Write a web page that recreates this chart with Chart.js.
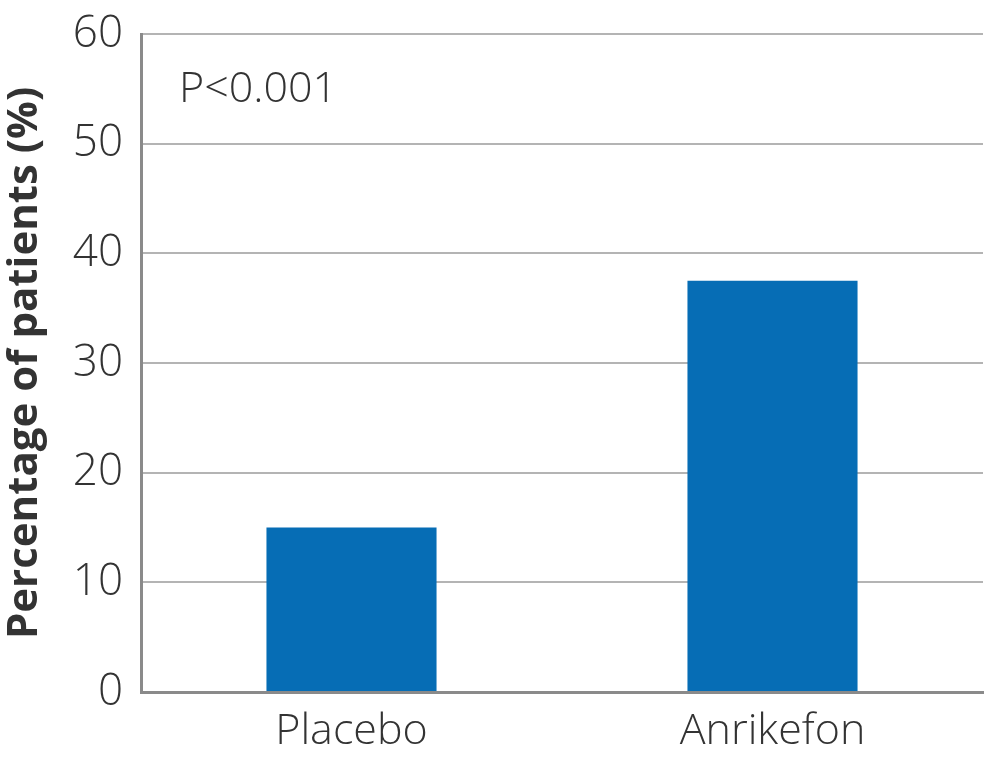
<!DOCTYPE html>
<html>
<head>
<meta charset="utf-8">
<script src="https://cdn.jsdelivr.net/npm/chart.js@4"></script>
<style>
  html, body { margin: 0; padding: 0; background: #fff; }
  #wrap { width: 985px; height: 757px; }
</style>
</head>
<body>
<div id="wrap"><canvas id="myChart" width="985" height="757"></canvas></div>
<script>
// data
const groups = ['Placebo', 'Anrikefon'];
const pct_patients = [15.0, 37.5];
const y_ticks = [0, 10, 20, 30, 40, 50, 60];
const p_label = 'P<0.001';
const y_title = 'Percentage of patients (%)';

const bar_blue = '#066db5';
const text_col = '#333333';

// P value note in the top-left of the plot
const p_note = {
    id: 'p_note',
    afterDraw(chart) {
        const ctx = chart.ctx;
        const area = chart.chartArea;
        ctx.save();
        ctx.font = '300 43px "Open Sans"';
        ctx.fillStyle = text_col;
        ctx.textBaseline = 'middle';
        ctx.fillText(p_label, area.left + 38, area.top + 56);
        ctx.restore();
    }
};

const ctx = document.getElementById('myChart');
const data = {
    labels: groups,
    datasets: [{
        data: pct_patients,
        backgroundColor: bar_blue,
        borderWidth: 0,
        barPercentage: 0.404,
        categoryPercentage: 1.0
    }]
};

const config = {
    type: 'bar',
    data: data,
    options: {
        responsive: false,
        animation: false,
        layout: {
            padding: { top: 34, right: 2, left: 0, bottom: 0 }
        },
        scales: {
            x: {
                grid: { display: false, drawTicks: false },
                border: { color: '#8a8a8a', width: 3 },
                ticks: {
                    color: text_col,
                    font: { family: 'Open Sans', size: 43, weight: '300' },
                    padding: 14
                },
                afterFit: (scale) => {
                    scale.height = 65;
                    scale.paddingLeft = 0;
                    scale.paddingRight = 0;
                }
            },
            y: {
                min: 0,
                max: 60,
                afterBuildTicks: (scale) => {
                    scale.ticks = y_ticks.map(v => ({ value: v }));
                },
                grid: { color: '#b4b4b4', lineWidth: 2, drawTicks: false },
                border: { color: '#8a8a8a', width: 3 },
                ticks: {
                    color: text_col,
                    font: { family: 'Open Sans', size: 44, weight: '300' },
                    padding: 18
                },
                title: {
                    display: true,
                    text: y_title,
                    color: text_col,
                    font: { family: 'Open Sans', size: 42, weight: 'bold' },
                    padding: { top: 0, bottom: 0 }
                },
                afterFit: (scale) => {
                    scale.width = 141;
                    scale.paddingTop = 0;
                    scale.paddingBottom = 0;
                }
            }
        },
        plugins: {
            legend: { display: false },
            tooltip: { enabled: false }
        }
    },
    plugins: [p_note]
};

chart = new Chart(ctx, config);
</script>
</body>
</html>
